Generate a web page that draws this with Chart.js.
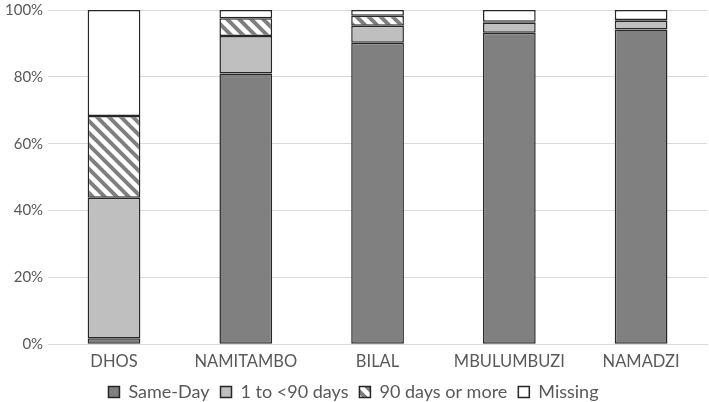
<!DOCTYPE html>
<html>
<head>
<meta charset="utf-8">
<script src="https://cdn.jsdelivr.net/npm/chart.js@4"></script>
<style>
  html, body { margin: 0; padding: 0; background: #fff; overflow: hidden; }
  #stackChart { position: absolute; left: 0; top: -4px; }
</style>
</head>
<body>
<canvas id="stackChart" width="709" height="415"></canvas>
<script>
const sites = ["DHOS", "NAMITAMBO", "BILAL", "MBULUMBUZI", "NAMADZI"];
const sameDay = [1.8, 81.0, 90.2, 93.2, 94.2];
const under90 = [42.0, 11.2, 5.1, 3.0, 2.6];
const over90 = [24.5, 5.3, 3.0, 0.3, 0.2];
const missing = [31.7, 2.5, 1.7, 3.5, 3.0];
const yTicks = [0, 20, 40, 60, 80, 100];

// diagonal hatch for "90 days or more"
function makeHatch() {
  const c = document.createElement("canvas");
  c.width = 12;
  c.height = 12;
  const g = c.getContext("2d");
  g.fillStyle = "#ffffff";
  g.fillRect(0, 0, 12, 12);
  g.strokeStyle = "#7f7f7f";
  g.lineWidth = 4;
  g.beginPath();
  g.moveTo(-3, -3); g.lineTo(15, 15);
  g.moveTo(-15, -3); g.lineTo(3, 15);
  g.moveTo(9, -3); g.lineTo(27, 15);
  g.stroke();
  return g.createPattern(c, "repeat");
}

const ctx = document.getElementById("stackChart");
const hatch = makeHatch();
const edge = "#262626";

const barStyle = {
  borderColor: edge,
  borderWidth: 1.5,
  borderSkipped: false,
  barPercentage: 0.4,
  categoryPercentage: 1.0,
};

new Chart(ctx, {
  type: "bar",
  data: {
    labels: sites,
    datasets: [
      Object.assign({ label: "Same-Day", data: sameDay, backgroundColor: "#808080" }, barStyle),
      Object.assign({ label: "1 to <90 days", data: under90, backgroundColor: "#bfbfbf" }, barStyle),
      Object.assign({ label: "90 days or more", data: over90, backgroundColor: hatch }, barStyle),
      Object.assign({ label: "Missing", data: missing, backgroundColor: "#ffffff" }, barStyle),
    ],
  },
  options: {
    responsive: false,
    animation: false,
    layout: {
      padding: { top: 0, right: 2, left: 0, bottom: 0 },
    },
    scales: {
      x: {
        stacked: true,
        grid: { display: false },
        border: { display: true, color: "#d9d9d9", width: 1 },
        ticks: {
          color: "#595959",
          font: { family: "Lato", size: 16.5 },
          padding: 0,
        },
      },
      y: {
        stacked: true,
        min: 0,
        max: 100,
        afterBuildTicks: (axis) => {
          axis.ticks = yTicks.map((v) => ({ value: v }));
        },
        grid: { color: "#d9d9d9", drawTicks: false },
        border: { display: false },
        ticks: {
          color: "#595959",
          font: { family: "Lato", size: 15 },
          padding: 5,
          callback: (v) => v + "%",
        },
      },
    },
    plugins: {
      tooltip: { enabled: false },
      legend: {
        position: "bottom",
        labels: {
          color: "#595959",
          font: { family: "Lato", size: 18 },
          boxWidth: 11,
          boxHeight: 11,
          padding: 11,
        },
      },
    },
  },
});
</script>
</body>
</html>
